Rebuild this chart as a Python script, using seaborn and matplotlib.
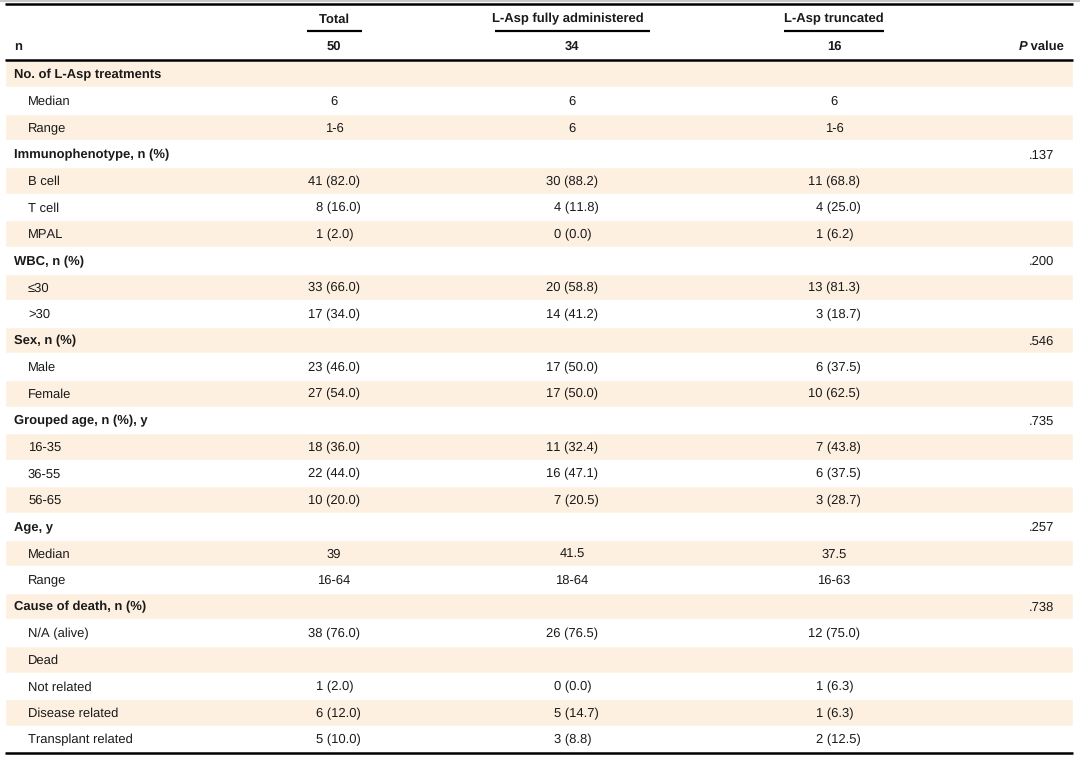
import matplotlib
matplotlib.use("Agg")
import matplotlib.pyplot as plt
import seaborn as sns

# table content
row_labels = [
    "No. of L-Asp treatments", "Median", "Range",
    "Immunophenotype, n (%)", "B cell", "T cell", "MPAL",
    "WBC, n (%)", "\u226430", ">30",
    "Sex, n (%)", "Male", "Female",
    "Grouped age, n (%), y", "16-35", "36-55", "56-65",
    "Age, y", "Median", "Range",
    "Cause of death, n (%)", "N/A (alive)", "Dead",
    "Not related", "Disease related", "Transplant related",
]
is_group = [True, False, False,
            True, False, False, False,
            True, False, False,
            True, False, False,
            True, False, False, False,
            True, False, False,
            True, False, False,
            False, False, False]
total = ["", "6", "1-6",
         "", "41 (82.0)", "8 (16.0)", "1 (2.0)",
         "", "33 (66.0)", "17 (34.0)",
         "", "23 (46.0)", "27 (54.0)",
         "", "18 (36.0)", "22 (44.0)", "10 (20.0)",
         "", "39", "16-64",
         "", "38 (76.0)", "",
         "1 (2.0)", "6 (12.0)", "5 (10.0)"]
fully = ["", "6", "6",
         "", "30 (88.2)", "4 (11.8)", "0 (0.0)",
         "", "20 (58.8)", "14 (41.2)",
         "", "17 (50.0)", "17 (50.0)",
         "", "11 (32.4)", "16 (47.1)", "7 (20.5)",
         "", "41.5", "18-64",
         "", "26 (76.5)", "",
         "0 (0.0)", "5 (14.7)", "3 (8.8)"]
truncated = ["", "6", "1-6",
             "", "11 (68.8)", "4 (25.0)", "1 (6.2)",
             "", "13 (81.3)", "3 (18.7)",
             "", "6 (37.5)", "10 (62.5)",
             "", "7 (43.8)", "6 (37.5)", "3 (28.7)",
             "", "37.5", "16-63",
             "", "12 (75.0)", "",
             "1 (6.3)", "1 (6.3)", "2 (12.5)"]
p_values = ["", "", "",
            ".137", "", "", "",
            ".200", "", "",
            ".546", "", "",
            ".735", "", "", "",
            ".257", "", "",
            ".738", "", "",
            "", "", ""]
col_names = ["Total", "L-Asp fully administered", "L-Asp truncated"]
col_n = ["50", "34", "16"]

sns.set_theme(style="white")
plt.rcParams["font.family"] = ["Liberation Sans", "DejaVu Sans"]
plt.rcParams["text.hinting"] = "no_hinting"
plt.rcParams["text.hinting_factor"] = 1

TXT = "#1a1a1a"
SHADE = "#fdf0e1"
FS = 9
FSB = 9.6

# layout in pixels, converted to row units
W, H = 1080, 759
ROW0, PITCH = 74.0, 26.6
BASE = 4.6 / PITCH  # baseline offset below row centre


def py(px):
    return (px - ROW0) / PITCH


fig = plt.figure(figsize=(W / 100, H / 100), dpi=100)
ax = fig.add_axes([0, 0, 1, 1])
ax.set_xlim(0, W)
ax.set_ylim(py(H), py(0))
ax.axis("off")
renderer = fig.canvas.get_renderer()

rows = list(range(len(row_labels)))
shaded = [r for r in rows if r % 2 == 0]
ax.barh(shaded, [1068] * len(shaded), left=5, height=1.0, color=SHADE, zorder=0)

col_x = [334, 572, 834]
head_x = [334, 568, 834]
line_spans = [(307, 362), (495, 650), (784, 884)]
p_x = 1041


def put(x, y, s, ha="left", bold=False, size=FS, **kw):
    return ax.text(x, y + BASE, s, ha=ha, va="baseline", fontsize=size,
                   fontweight="bold" if bold else "normal", color=TXT, **kw)


def text_w(s):
    t = ax.text(0, 0, s, fontsize=FS)
    w = t.get_window_extent(renderer).width
    t.remove()
    return w


# header
for name, hx, n, cx, (a, b) in zip(col_names, head_x, col_n, col_x, line_spans):
    put(hx, py(18), name, ha="center", bold=True, size=FSB)
    ax.plot([a, b], [py(31), py(31)], color="black", lw=1.6, solid_capstyle="butt")
    put(cx, py(45), n, ha="center", bold=True, size=FSB)
put(14, py(45), "n", bold=True, size=FSB)
val = put(1064, py(45), " value", ha="right", bold=True, size=FSB)
ax.annotate("P", xy=(0, 0), xycoords=val, ha="right", va="bottom", fontsize=FSB,
            fontweight="bold", fontstyle="italic", color=TXT)

# rules
ax.plot([0, 1080], [py(1), py(1)], color="#c8c8c8", lw=1.5, solid_capstyle="butt")
ax.plot([5, 1073], [py(4), py(4)], color="black", lw=1.8, solid_capstyle="butt")
ax.plot([5, 1073], [py(60), py(60)], color="black", lw=1.8, solid_capstyle="butt")
ax.plot([5, 1073], [py(753), py(753)], color="black", lw=1.8, solid_capstyle="butt")

paren_w = text_w("(")


def cell(x, y, s):
    if not s:
        return
    if " (" in s:
        # line up the opening brackets in each column
        num = s.split(" (", 1)[0]
        lead = text_w(num + " (") - paren_w
        put(x - 7.6 - lead, y, s, ha="left")
    else:
        put(x, y, s, ha="center")


for r in rows:
    if is_group[r]:
        put(14, r, row_labels[r], bold=True, size=FSB)
    else:
        put(28, r, row_labels[r])
    for cx, col in zip(col_x, [total, fully, truncated]):
        cell(cx, r, col[r])
    if p_values[r]:
        put(p_x, r, p_values[r], ha="center")

fig.savefig("out.png", dpi=100)
